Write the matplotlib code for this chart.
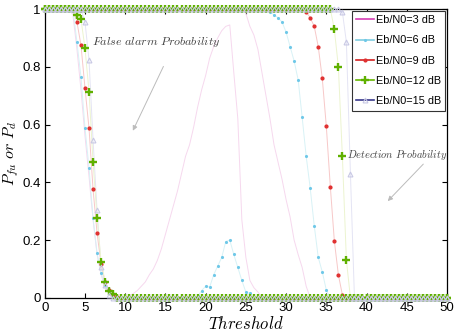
import numpy as np
import matplotlib
matplotlib.use('Agg')
import matplotlib.pyplot as plt
from matplotlib.lines import Line2D

# threshold axis, 0 to 50 in steps of 0.5
threshold = np.arange(0, 50.5, 0.5)

labels = ['Eb/N0=3 dB', 'Eb/N0=6 dB', 'Eb/N0=9 dB', 'Eb/N0=12 dB', 'Eb/N0=15 dB']

# false alarm curves: value is 1 before the start, listed values, then 0
pf_start = [3.0, 3.5, 3.5, 3.5, 4.5]
pf_3 = [1.0, 0.98, 0.86, 0.72, 0.56, 0.42, 0.27, 0.15, 0.08, 0.035, 0.015, 0.005,
        0.0, 0.0, 0.003, 0.006, 0.015, 0.025, 0.04, 0.055, 0.08, 0.10, 0.13, 0.17,
        0.22, 0.27, 0.32, 0.37, 0.43, 0.49, 0.53, 0.59, 0.66, 0.72, 0.77, 0.83,
        0.87, 0.90, 0.925, 0.94, 0.945, 0.78, 0.62, 0.27, 0.14, 0.06, 0.035, 0.02, 0.0]
pf_6 = [1.0, 0.885, 0.764, 0.588, 0.45, 0.277, 0.155, 0.085, 0.044, 0.02, 0.005,
        0, 0, 0, 0, 0, 0, 0, 0, 0, 0, 0, 0, 0, 0, 0, 0, 0, 0, 0, 0,
        0.005, 0.025, 0.04, 0.037, 0.08, 0.11, 0.14, 0.195, 0.20, 0.15, 0.105,
        0.06, 0.02, 0.015, 0.0]
pf_9 = [1.0, 0.955, 0.875, 0.726, 0.587, 0.376, 0.224, 0.117, 0.055, 0.027, 0.01, 0.003, 0.0]
pf_12 = [1.0, 0.98, 0.965, 0.864, 0.714, 0.47, 0.277, 0.125, 0.055, 0.024, 0.012, 0.0]
pf_15 = [1.0, 0.955, 0.823, 0.546, 0.303, 0.107, 0.044, 0.01, 0.0]

# detection curves: 1 before the start, listed values, then 0
pd_start = [24.0, 28.0, 32.5, 35.5, 36.5]
pd_3 = [1.0, 1.0, 0.985, 0.94, 0.91, 0.86, 0.78, 0.70, 0.62, 0.53, 0.47, 0.41,
        0.34, 0.28, 0.20, 0.15, 0.105, 0.04, 0.0]
pd_6 = [0.99, 0.98, 0.97, 0.955, 0.92, 0.87, 0.82, 0.755, 0.625, 0.49, 0.38,
        0.25, 0.14, 0.09, 0.027, 0.0]
pd_9 = [0.99, 0.97, 0.94, 0.87, 0.76, 0.595, 0.385, 0.197, 0.08, 0.01, 0.0]
pd_12 = [1.0, 0.93, 0.80, 0.49, 0.13, 0.0]
pd_15 = [1.0, 0.99, 0.885, 0.43, 0.0]


def full_curve(start, vals):
    y = np.zeros_like(threshold)
    i0 = int(round(start / 0.5))
    y[:i0] = 1.0
    y[i0:i0 + len(vals)] = vals
    return y


plt.rcParams['font.family'] = ['Liberation Sans', 'DejaVu Sans']
plt.rcParams['mathtext.fontset'] = 'cm'

fig = plt.figure(figsize=(4.57, 3.35), dpi=100)
ax = fig.add_axes([0.098, 0.111, 0.880, 0.862])

line_cols = ['#f6d8ee', '#d8f2f6', '#f7c8c8', '#ecf4d0', '#e4e4f4']
leg_cols = ['#d63cb4', '#7fcde0', '#d42020', '#66b800', '#3a3a8c']
mk = [dict(marker=None),
      dict(marker='.', ms=2.5, mfc='#6fc8e8', mec='#6fc8e8'),
      dict(marker='.', ms=4, mfc='#e03030', mec='#e03030'),
      dict(marker='+', ms=6, mew=1.7, mfc='#5fb000', mec='#5fb000'),
      dict(marker='^', ms=3.5, mfc='none', mec='#c8c8e4', mew=0.8)]

pfs = [pf_3, pf_6, pf_9, pf_12, pf_15]
pds = [pd_3, pd_6, pd_9, pd_12, pd_15]
order = [4, 0, 1, 2, 3]

# faint lines first, markers on top afterwards
for k in order:
    for y in (full_curve(pf_start[k], pfs[k]), full_curve(pd_start[k], pds[k])):
        ax.plot(threshold, y, color=line_cols[k], lw=0.7, clip_on=False, zorder=2)
for k in order:
    if mk[k]['marker'] is None:
        continue
    for y in (full_curve(pf_start[k], pfs[k]), full_curve(pd_start[k], pds[k])):
        ax.plot(threshold, y, ls='none', clip_on=False, zorder=3 + k * 0.1, **mk[k])

ax.set_xlim(0, 50)
ax.set_ylim(0, 1)
ax.set_xticks(np.arange(0, 51, 5))
ax.set_yticks([0, 0.2, 0.4, 0.6, 0.8, 1])
ax.set_yticklabels(['0', '0.2', '0.4', '0.6', '0.8', '1'])
ax.tick_params(direction='in', top=True, right=True, labelsize=9.5, length=3.5, pad=3)
for s in ax.spines.values():
    s.set_linewidth(0.9)

ax.set_xlabel(r'$Threshold$', fontsize=12, labelpad=1)
ax.set_ylabel(r'$P_{fu}\ or\ P_d$', fontsize=11.5, labelpad=1)

ax.text(5.85, 0.886, r'$False\ alarm\ Probability$', fontsize=8.7, color='#444444', va='center')
ax.annotate('', xy=(10.8, 0.57), xytext=(14.9, 0.81),
            arrowprops=dict(arrowstyle='-|>', color='#bbbbbb', lw=0.7, mutation_scale=7))
ax.text(37.6, 0.494, r'$Detection\ Probability$', fontsize=7.5, color='#444444', va='center')
ax.annotate('', xy=(42.4, 0.328), xytext=(47.3, 0.47),
            arrowprops=dict(arrowstyle='-|>', color='#bbbbbb', lw=0.7, mutation_scale=7))

handles = []
for k in range(5):
    m = dict(mk[k])
    handles.append(Line2D([], [], color=leg_cols[k], lw=1.2, **m))
leg = ax.legend(handles, labels, loc='upper right', fontsize=7.8, fancybox=False,
                framealpha=1, edgecolor='#333333', handlelength=1.6,
                handletextpad=0.2, borderpad=0.4, labelspacing=0.95,
                borderaxespad=0.15)
leg.get_frame().set_linewidth(0.8)
leg.set_zorder(10)

fig.savefig('out.png', dpi=100)
